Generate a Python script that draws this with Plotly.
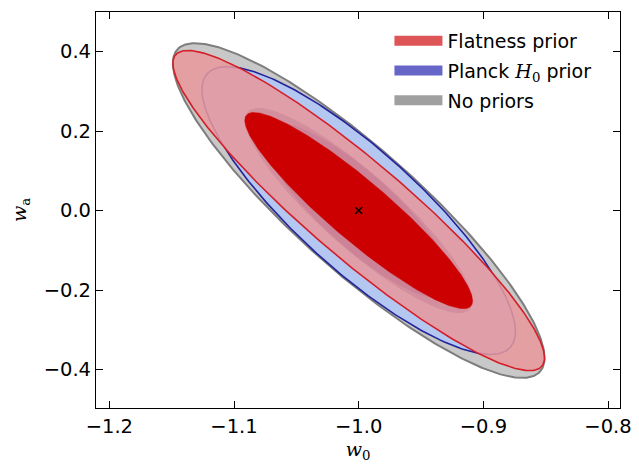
import numpy as np
import plotly.graph_objects as go

# ---- data ----
center_w0 = -1.0
center_wa = 0.0
series_names = ["Flatness prior",
                "Planck <span style=\"font-family:'DejaVu Serif'\"><i>H</i><sub>0</sub></span> prior",
                "No priors"]
sigma_w0 = [0.0601, 0.0507, 0.0601]
sigma_wa = [0.1623, 0.1459, 0.1697]
rho = [-0.92, -0.84, -0.88]
k_levels = [1.52, 2.48]   # 1-sigma and 2-sigma scale factors

x_ticks = [-1.2, -1.1, -1.0, -0.9, -0.8]
x_ticklabels = ["\u22121.2", "\u22121.1", "\u22121.0", "\u22120.9", "\u22120.8"]
y_ticks = [-0.4, -0.2, 0.0, 0.2, 0.4]
y_ticklabels = ["\u22120.4", "\u22120.2", "0.0", "0.2", "0.4"]


def ellipse(i, k, n=400):
    sx, sy, r = sigma_w0[i], sigma_wa[i], rho[i]
    cov = np.array([[sx * sx, r * sx * sy], [r * sx * sy, sy * sy]])
    L = np.linalg.cholesky(cov)
    t = np.linspace(0, 2 * np.pi, n)
    pts = k * L @ np.vstack([np.cos(t), np.sin(t)])
    return center_w0 + pts[0], center_wa + pts[1]


fig = go.Figure()

def add(x, y, fill, line_color, width):
    fig.add_trace(go.Scatter(x=x, y=y, mode="lines", fill="toself", fillcolor=fill,
                             line=dict(color=line_color, width=width),
                             hoverinfo="skip", showlegend=False))

# No priors (gray)
x, y = ellipse(2, k_levels[1]); add(x, y, "rgb(200,200,200)", "rgb(125,125,125)", 2)
# Planck (blue)
x, y = ellipse(1, k_levels[1]); add(x, y, "rgb(179,199,240)", "rgb(35,35,155)", 1.6)
# Flatness outer (red, translucent)
x, y = ellipse(0, k_levels[1]); add(x, y, "rgba(232,152,156,0.86)", "rgba(0,0,0,0)", 0)
# inner 1-sigma regions of gray and blue seen through red
x, y = ellipse(2, k_levels[0]); add(x, y, "rgba(185,105,135,0.3)", "rgba(0,0,0,0)", 0)
x, y = ellipse(1, k_levels[0]); add(x, y, "rgba(185,105,135,0.3)", "rgba(0,0,0,0)", 0)
# red outer edge
x, y = ellipse(0, k_levels[1])
fig.add_trace(go.Scatter(x=x, y=y, mode="lines", line=dict(color="rgb(212,30,40)", width=1.6),
                         hoverinfo="skip", showlegend=False))
# red inner
x, y = ellipse(0, k_levels[0]); add(x, y, "rgb(204,0,0)", "rgb(204,0,0)", 0.5)

# centre marker
fig.add_trace(go.Scatter(x=[center_w0], y=[center_wa], mode="markers",
                         marker=dict(symbol="x-thin", size=7, line=dict(color="black", width=1.5)),
                         hoverinfo="skip", showlegend=False))

# legend entries
legend_colors = ["rgb(222,85,88)", "rgb(102,102,200)", "rgb(160,160,160)"]
for i, (name, c) in enumerate(zip(series_names, legend_colors)):
    fig.add_trace(go.Scatter(x=[None], y=[None], mode="lines",
                             line=dict(color=c, width=10), name=name, legendgroup=f"g{i}"))

axis_common = dict(showline=True, linecolor="black", linewidth=1.2, mirror="allticks",
                   ticks="inside", ticklen=7, tickwidth=1.2, tickcolor="black",
                   showgrid=False, zeroline=False, automargin=False,
                   tickfont=dict(family="DejaVu Sans", size=19.5, color="black"))

fig.update_layout(
    width=631, height=463,
    margin=dict(l=88, r=19, t=4, b=63),
    paper_bgcolor="white", plot_bgcolor="white",
    xaxis=dict(range=[-1.2107, -0.7904], tickvals=x_ticks, ticktext=x_ticklabels,
               title=dict(text="<i>w</i><sub>0</sub>", standoff=6,
                          font=dict(family="DejaVu Serif", size=19, color="black")),
               **axis_common),
    yaxis=dict(range=[-0.4965, 0.4993], tickvals=y_ticks, ticktext=y_ticklabels,
               title=dict(text="<i>w</i><sub>a</sub>", standoff=15,
                          font=dict(family="DejaVu Serif", size=19, color="black")),
               **axis_common),
    legend=dict(x=0.56, y=0.975, xanchor="left", yanchor="top", bgcolor="rgba(0,0,0,0)",
                font=dict(family="DejaVu Sans", size=19, color="black"),
                itemwidth=48, tracegroupgap=2),
    showlegend=True,
)

fig.write_html("out.html")
